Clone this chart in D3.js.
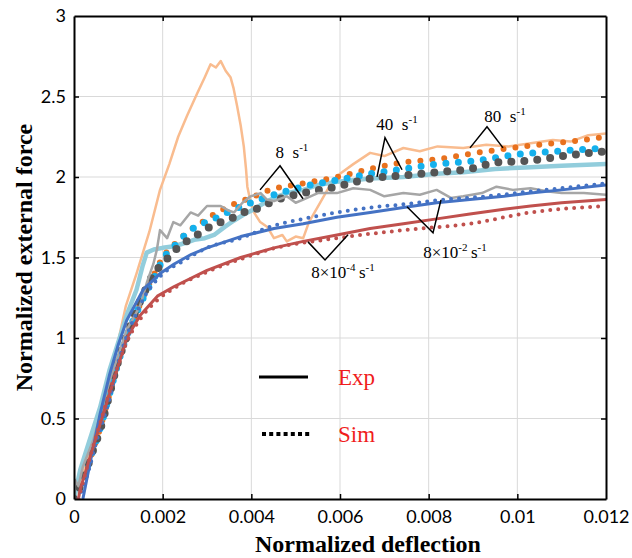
<!DOCTYPE html>
<html>
<head>
<meta charset="utf-8">
<script src="https://cdn.jsdelivr.net/npm/d3@7/dist/d3.min.js"></script>
<style>
  body { margin: 0; background: #fff; }
  .tick text { font-family: Lato, "Open Sans", sans-serif; font-size: 18px; fill: #000; }
  .axis-title { font-family: "Liberation Serif", "Times New Roman", serif; font-weight: bold; font-size: 24px; }
  .anno { font-family: "Liberation Serif", "Times New Roman", serif; font-size: 17px; }
</style>
</head>
<body>
<div id="chart"></div>
<script>
// tick values / labels
var xTicks = [0, 0.002, 0.004, 0.006, 0.008, 0.01, 0.012]
var xTickLabels = ["0", "0.002", "0.004", "0.006", "0.008", "0.01", "0.012"]
var yTicks = [0, 0.5, 1, 1.5, 2, 2.5, 3]
var yTickLabels = ["0", "0.5", "1", "1.5", "2", "2.5", "3"]

// experiments (solid), [deflection, force]
var exp80 = [[0,0],[0.00025,0.2],[0.0005,0.45],[0.00081,0.74],[0.00117,1.2],[0.00141,1.40],[0.0017,1.66],[0.00194,1.92],
  [0.00215,2.08],[0.00235,2.25],[0.00255,2.38],[0.00278,2.52],[0.00295,2.62],[0.00308,2.70],[0.0032,2.68],[0.00331,2.72],
  [0.00342,2.66],[0.00353,2.62],[0.0036,2.55],[0.00368,2.44],[0.00376,2.32],[0.00383,2.19],[0.00388,2.05],[0.00391,1.94],
  [0.00398,1.85],[0.00406,1.78],[0.0042,1.72],[0.00436,1.69],[0.00451,1.62],[0.0047,1.64],[0.0048,1.60],[0.005,1.63],
  [0.00517,1.62],[0.0053,1.72],[0.00555,1.84],[0.0058,1.96],[0.006,2.02],[0.0063,2.08],[0.00668,2.15],[0.007,2.13],
  [0.00743,2.18],[0.0078,2.16],[0.0082,2.19],[0.00878,2.18],[0.0093,2.20],[0.0098,2.19],[0.0103,2.21],[0.0108,2.23],
  [0.0112,2.22],[0.0116,2.26],[0.012,2.27]]
var exp40 = [[0,0],[0.00014,0.18],[0.0003,0.32],[0.00059,0.57],[0.0008,0.80],[0.00104,1.01],[0.0012,1.15],[0.00141,1.30],
  [0.00155,1.45],[0.00164,1.53],[0.0018,1.55],[0.002,1.56],[0.00226,1.57],[0.0025,1.59],[0.00271,1.61],[0.00295,1.62],
  [0.00316,1.64],[0.0034,1.69],[0.00361,1.73],[0.00385,1.77],[0.00406,1.80],[0.0043,1.84],[0.00451,1.87],[0.0048,1.90],
  [0.00517,1.92],[0.0055,1.95],[0.00593,1.97],[0.0063,1.98],[0.00668,1.99],[0.00743,2.00],[0.00818,2.02],[0.00878,2.03],
  [0.0095,2.05],[0.0103,2.06],[0.011,2.07],[0.012,2.08]]
var exp8 = [[0,0],[0.00002,0.12],[0.0001,0.08],[0.0002,0.2],[0.00044,0.37],[0.00081,0.74],[0.00119,1.05],[0.00149,1.20],
  [0.00165,1.35],[0.00179,1.46],[0.00187,1.55],[0.00194,1.67],[0.0021,1.62],[0.00224,1.72],[0.0024,1.70],[0.00263,1.78],
  [0.0028,1.76],[0.003,1.82],[0.00331,1.82],[0.0035,1.79],[0.00361,1.78],[0.0038,1.84],[0.00398,1.88],[0.00421,1.90],
  [0.00435,1.86],[0.00451,1.85],[0.0048,1.88],[0.005,1.84],[0.00517,1.86],[0.0055,1.90],[0.00593,1.90],[0.0063,1.93],
  [0.00668,1.92],[0.007,1.88],[0.00743,1.90],[0.0078,1.89],[0.00818,1.92],[0.0085,1.87],[0.00878,1.88],[0.0092,1.90],
  [0.00953,1.94],[0.0099,1.92],[0.0103,1.93],[0.0107,1.91],[0.011,1.90],[0.0115,1.90],[0.012,1.89]]
var exp8e2 = [[0.0002,0],[0.00036,0.22],[0.00059,0.53],[0.00081,0.78],[0.001,0.96],[0.00119,1.11],[0.00156,1.30],
  [0.00194,1.40],[0.00226,1.46],[0.00265,1.52],[0.003,1.56],[0.00376,1.63],[0.00451,1.68],[0.00517,1.71],[0.00593,1.75],
  [0.00668,1.78],[0.00743,1.81],[0.00818,1.84],[0.00893,1.86],[0.0097,1.88],[0.0103,1.90],[0.011,1.92],[0.012,1.95]]
var exp8e4 = [[0.0001,0],[0.00014,0.06],[0.00044,0.33],[0.00081,0.66],[0.00119,1.00],[0.00149,1.14],[0.00188,1.26],
  [0.00226,1.32],[0.003,1.42],[0.00376,1.50],[0.00451,1.56],[0.00517,1.60],[0.00593,1.64],[0.00668,1.68],[0.00743,1.71],
  [0.00818,1.74],[0.00893,1.77],[0.0097,1.80],[0.0103,1.82],[0.011,1.84],[0.012,1.86]]

// simulations (dotted)
var sim80 = [[0,0],[0.0002,0.12],[0.0004,0.28],[0.0006,0.45],[0.0008,0.65],[0.001,0.85],[0.0012,1.02],[0.0014,1.15],
  [0.0016,1.28],[0.0018,1.39],[0.002,1.50],[0.00222,1.57],[0.00241,1.62],[0.00256,1.66],[0.00278,1.70],[0.003,1.74],
  [0.00323,1.78],[0.00368,1.84],[0.00398,1.87],[0.00442,1.92],[0.00517,1.96],[0.00593,2.00],[0.00668,2.05],[0.00743,2.09],
  [0.00818,2.11],[0.00908,2.15],[0.01014,2.19],[0.01119,2.22],[0.012,2.25]]
var sim40 = [[0,0],[0.0002,0.12],[0.0004,0.28],[0.0006,0.45],[0.0008,0.65],[0.001,0.85],[0.0012,1.02],[0.0014,1.15],
  [0.0016,1.27],[0.0018,1.37],[0.00203,1.50],[0.00226,1.57],[0.00263,1.67],[0.00289,1.71],[0.00316,1.74],[0.00346,1.78],
  [0.00429,1.87],[0.00517,1.94],[0.00593,1.98],[0.00668,2.02],[0.00743,2.05],[0.00818,2.08],[0.00905,2.10],[0.00999,2.14],
  [0.01089,2.16],[0.012,2.18]]
var sim8 = [[0,0],[0.0002,0.12],[0.0004,0.28],[0.00059,0.43],[0.0008,0.65],[0.00096,0.82],[0.0012,1.02],[0.0014,1.17],
  [0.00158,1.28],[0.0018,1.40],[0.00203,1.47],[0.00226,1.54],[0.00248,1.59],[0.00278,1.64],[0.003,1.68],[0.00331,1.72],
  [0.00361,1.75],[0.00391,1.79],[0.00421,1.81],[0.00442,1.84],[0.00517,1.90],[0.00593,1.94],[0.00668,1.99],[0.00743,2.01],
  [0.00818,2.03],[0.00893,2.05],[0.00953,2.09],[0.01021,2.10],[0.01104,2.13],[0.012,2.16]]
var sim8e2 = [[0.0001,0],[0.0003,0.15],[0.0005,0.35],[0.0008,0.62],[0.001,0.85],[0.0012,1.02],[0.0014,1.15],[0.00164,1.28],
  [0.0018,1.34],[0.0021,1.42],[0.00241,1.47],[0.003,1.56],[0.00376,1.62],[0.00442,1.69],[0.00517,1.74],[0.00593,1.78],
  [0.00668,1.81],[0.00743,1.83],[0.00818,1.855],[0.0093,1.88],[0.0103,1.91],[0.012,1.96]]
var sim8e4 = [[0.0001,0],[0.0003,0.2],[0.0006,0.48],[0.0009,0.75],[0.0012,0.98],[0.0015,1.12],[0.0019,1.24],[0.00226,1.31],
  [0.003,1.41],[0.00376,1.49],[0.00442,1.55],[0.00593,1.62],[0.00743,1.67],[0.00893,1.71],[0.0103,1.78],[0.012,1.82]]

// rate annotations: label + bracket points (data units)
var annoLabels = [
  [["8\u2002s",0],["-1",1]],
  [["40\u2002s",0],["-1",1]],
  [["80\u2002s",0],["-1",1]],
  [["8\u00d710",0],["-4",1],["\u2009s",0],["-1",1]],
  [["8\u00d710",0],["-2",1],["\u2009s",0],["-1",1]]
]
var annoTextPos = [[0.004917,2.119],[0.007286,2.293],[0.009722,2.3445],[0.006068,1.3735],[0.008594,1.498]]
var annoBrackets = [
  [[0.004196,1.920],[0.004647,2.070],[0.005166,1.865]],
  [[0.006835,2.001],[0.007015,2.244],[0.007399,2.045]],
  [[0.008932,2.181],[0.009316,2.312],[0.009677,2.181]],
  [[0.005278,1.597],[0.005662,1.485],[0.006181,1.641]],
  [[0.007511,1.815],[0.008098,1.653],[0.008278,1.858]]
]

var W = 632, H = 558
var margin = {top: 16, right: 26, bottom: 59, left: 74},
    width = W - margin.left - margin.right,
    height = H - margin.top - margin.bottom;

var svg = d3.select("#chart").append("svg")
    .attr("width", W)
    .attr("height", H)
  .append("g")
    .attr("transform", "translate(" + margin.left + "," + margin.top + ")");

var x = d3.scaleLinear().domain([0, 0.012]).range([0, width])
var y = d3.scaleLinear().domain([0, 3]).range([height, 0])

// grid
svg.selectAll(".gx").data(xTicks.slice(1, -1)).enter().append("line")
    .attr("x1", d => x(d)).attr("x2", d => x(d))
    .attr("y1", 0).attr("y2", height)
    .attr("stroke", "#d9d9d9").attr("stroke-width", 1)
svg.selectAll(".gy").data(yTicks.slice(1, -1)).enter().append("line")
    .attr("x1", 0).attr("x2", width)
    .attr("y1", d => y(d)).attr("y2", d => y(d))
    .attr("stroke", "#d9d9d9").attr("stroke-width", 1)

svg.append("clipPath").attr("id", "clip")
  .append("rect").attr("x", 0).attr("y", -2).attr("width", width).attr("height", height + 2)

var plot = svg.append("g").attr("clip-path", "url(#clip)")
var line = d3.line().x(d => x(d[0])).y(d => y(d[1]))

function solid(data, color, w) {
  plot.append("path").attr("d", line(data))
    .attr("fill", "none").attr("stroke", color).attr("stroke-width", w)
    .attr("stroke-linejoin", "round")
}
function dotted(data, color, size, gap) {
  plot.append("path").attr("d", line.curve(d3.curveMonotoneX)(data))
    .attr("fill", "none").attr("stroke", color).attr("stroke-width", size)
    .attr("stroke-linecap", "round").attr("stroke-dasharray", "0 " + gap)
  line.curve(d3.curveLinear)
}

solid(exp80, "#f9bc8f", 2.5)
solid(exp40, "#92cddc", 4.5)
dotted(sim80, "#e8711e", 6, 12)
dotted(sim40, "#14b0ec", 7, 12.5)
dotted(sim8, "#555555", 8, 13)
solid(exp8, "#a6a6a6", 2.5)
solid(exp8e2, "#4472c4", 3)
solid(exp8e4, "#c0504d", 3)
dotted(sim8e2, "#4472c4", 4, 8)
dotted(sim8e4, "#c0504d", 4, 8)

// axes (inward ticks on all four sides)
function styleAxis(g) {
  g.select(".domain").attr("stroke", "#000").attr("stroke-width", 2)
  g.selectAll(".tick line").attr("stroke", "#000").attr("stroke-width", 1.5)
}
svg.append("g").attr("transform", "translate(0," + height + ")")
  .call(d3.axisBottom(x).tickValues(xTicks).tickFormat((d, i) => xTickLabels[i])
    .tickSizeInner(-5).tickSizeOuter(0).tickPadding(11))
  .call(styleAxis)
svg.append("g")
  .call(d3.axisLeft(y).tickValues(yTicks).tickFormat((d, i) => yTickLabels[i])
    .tickSizeInner(-5).tickSizeOuter(0).tickPadding(8))
  .call(styleAxis)
svg.append("g")
  .call(d3.axisTop(x).tickValues(xTicks).tickFormat("").tickSizeInner(-5).tickSizeOuter(0))
  .call(styleAxis)
svg.append("g").attr("transform", "translate(" + width + ",0)")
  .call(d3.axisRight(y).tickValues(yTicks).tickFormat("").tickSizeInner(-5).tickSizeOuter(0))
  .call(styleAxis)

svg.selectAll(".tick").filter(d => d === 0 || d === 0.012 || d === 3)
  .select("line").attr("stroke-width", 0)

// axis titles
svg.append("text").attr("class", "axis-title")
  .attr("x", 294).attr("y", height + 53)
  .attr("text-anchor", "middle")
  .text("Normalized deflection")
svg.append("text").attr("class", "axis-title")
  .attr("transform", "translate(" + (-42) + "," + (height / 2) + ") rotate(-90)")
  .attr("text-anchor", "middle")
  .text("Normalized external force")

// annotations
var bracket = d3.line().x(d => x(d[0])).y(d => y(d[1]))
annoBrackets.forEach(function(b) {
  svg.append("path").attr("d", bracket(b))
    .attr("fill", "none").attr("stroke", "#000").attr("stroke-width", 1.5)
})
annoLabels.forEach(function(parts, i) {
  var t = svg.append("text").attr("class", "anno")
    .attr("x", x(annoTextPos[i][0])).attr("y", y(annoTextPos[i][1]))
    .attr("text-anchor", "middle")
  var raised = false
  parts.forEach(function(p) {
    var ts = t.append("tspan").text(p[0])
    if (p[1] && !raised) { ts.attr("dy", -7).attr("font-size", 11); raised = true }
    else if (p[1]) { ts.attr("font-size", 11) }
    else if (raised) { ts.attr("dy", 7); raised = false }
  })
})

// legend
var legend = svg.append("g")
legend.append("line").attr("x1", 185).attr("x2", 234).attr("y1", 361).attr("y2", 361)
  .attr("stroke", "#000").attr("stroke-width", 3)
legend.append("line").attr("x1", 188).attr("x2", 236).attr("y1", 418).attr("y2", 418)
  .attr("stroke", "#000").attr("stroke-width", 4).attr("stroke-dasharray", "4 3.2")
legend.append("text").attr("x", 264).attr("y", 369)
  .attr("font-family", "Liberation Serif, serif").attr("font-size", 23).attr("fill", "#f01c1c")
  .text("Exp")
legend.append("text").attr("x", 264).attr("y", 426)
  .attr("font-family", "Liberation Serif, serif").attr("font-size", 23).attr("fill", "#f01c1c")
  .text("Sim")
</script>
</body>
</html>
